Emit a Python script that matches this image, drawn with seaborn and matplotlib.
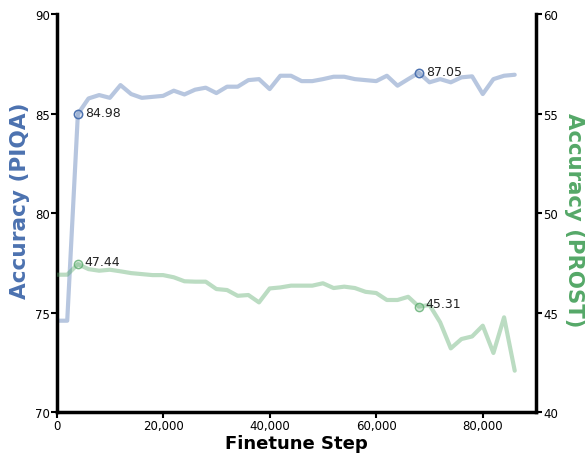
import numpy as np
import pandas as pd
import matplotlib
matplotlib.use("Agg")
import matplotlib.pyplot as plt
import seaborn as sns

steps = list(range(0, 86001, 2000))
piqa = [74.6, 74.6, 84.98, 85.76, 85.93, 85.79, 86.43, 85.98, 85.79, 85.84,
        85.89, 86.15, 85.96, 86.2, 86.3, 86.03, 86.35, 86.35, 86.68, 86.73,
        86.23, 86.9, 86.9, 86.63, 86.63, 86.73, 86.85, 86.85, 86.73, 86.68,
        86.63, 86.9, 86.4, 86.73, 87.05, 86.57, 86.73, 86.57, 86.82, 86.87,
        85.98, 86.73, 86.9, 86.95]
prost = [46.91, 46.91, 47.44, 47.19, 47.11, 47.16, 47.08, 46.99, 46.94, 46.89,
         46.89, 46.78, 46.58, 46.56, 46.56, 46.19, 46.14, 45.85, 45.89, 45.52,
         46.22, 46.27, 46.36, 46.36, 46.36, 46.48, 46.24, 46.31, 46.24, 46.05,
         45.99, 45.64, 45.64, 45.80, 45.31, 45.39, 44.52, 43.21, 43.68, 43.81,
         44.35, 42.98, 44.77, 42.09]
piqa_marks = [4000, 68000]
prost_marks = [4000, 68000]
xticks = [0, 20000, 40000, 60000, 80000]
xtick_labels = ["0", "20,000", "40,000", "60,000", "80,000"]

df = pd.DataFrame({"step": steps, "piqa": piqa, "prost": prost})

blue = "#4c72b0"
green = "#55a868"

sns.set_style("white")
plt.rcParams['font.family'] = ['DejaVu Sans']

fig = plt.figure(figsize=(5.85, 4.56), dpi=100)
ax = fig.add_axes([0.0967, 0.0936, 0.8196, 0.8735])
ax2 = ax.twinx()

sns.lineplot(data=df, x="step", y="piqa", ax=ax, color=blue, alpha=0.4, lw=3)
sns.lineplot(data=df, x="step", y="prost", ax=ax2, color=green, alpha=0.4, lw=3)

for s in piqa_marks:
    v = df.loc[df.step == s, "piqa"].values[0]
    ax.plot([s], [v], 'o', ms=6, mfc=(0.298, 0.447, 0.69, 0.2), mec=blue, mew=1.1)
    ax.annotate(f"{v:.2f}", (s, v), xytext=(5, 1), textcoords="offset points",
                fontsize=9, va="center", ha="left", color="#222222")
for s in prost_marks:
    v = df.loc[df.step == s, "prost"].values[0]
    ax2.plot([s], [v], 'o', ms=6, mfc=(0.333, 0.659, 0.408, 0.25),
             mec=(0.333, 0.659, 0.408, 0.75), mew=1.0)
    ax2.annotate(f"{v:.2f}", (s, v), xytext=(5, 2), textcoords="offset points",
                 fontsize=9, va="center", ha="left", color="#222222")

ax.set_xlim(0, 90000)
ax.set_ylim(70, 90)
ax2.set_ylim(40, 60)
ax.set_yticks([70, 75, 80, 85, 90])
ax2.set_yticks([40, 45, 50, 55, 60])
ax.set_xticks(xticks)
ax.set_xticklabels(xtick_labels)

for a in (ax, ax2):
    a.spines['top'].set_visible(False)
    for sp in ('left', 'right', 'bottom'):
        a.spines[sp].set_linewidth(2.5)
        a.spines[sp].set_color('black')
    a.tick_params(axis='both', which='major', labelsize=8.5, length=4, width=1.5,
                  color='black', labelcolor='black', pad=1)
ax.spines['right'].set_visible(False)
ax2.spines['left'].set_visible(False)
ax2.spines['bottom'].set_visible(False)
ax.tick_params(axis='x', bottom=True, length=4)
ax.tick_params(axis='y', left=True)
ax2.tick_params(axis='y', right=True)

ax.set_xlabel("Finetune Step", fontsize=13, fontweight='bold', labelpad=1, color='black')
ax.set_ylabel("Accuracy (PIQA)", fontsize=15.6, fontweight='bold', color=blue,
              va='center', ha='center', rotation=90)
ax.yaxis.set_label_coords(-0.077, 0.533)
ax2.set_ylabel("Accuracy (PROST)", fontsize=15.3, fontweight='bold', color=green,
               rotation=270, va='center', ha='center')
ax2.yaxis.set_label_coords(1.080, 0.485)

fig.savefig("out.png", dpi=100)
